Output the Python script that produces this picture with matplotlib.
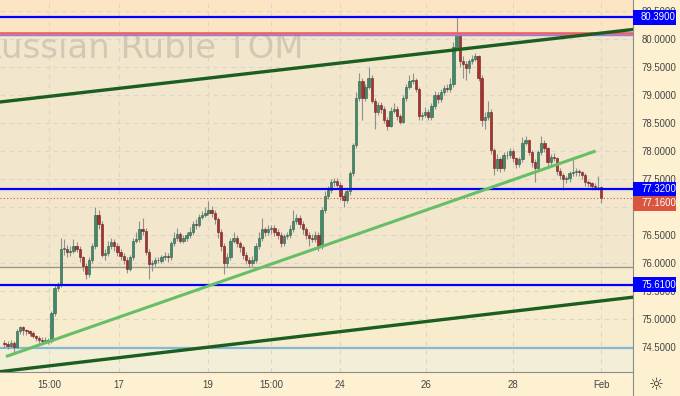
import numpy as np
import matplotlib
matplotlib.use("Agg")
import matplotlib.pyplot as plt
from matplotlib.lines import Line2D
from matplotlib.patches import Rectangle
from matplotlib.transforms import blended_transform_factory

# hourly candles, USD/RUB TOM, 13 Jan - 1 Feb
first_open = 74.58
closes = [
    74.55, 74.52, 74.58, 74.50, 74.78, 74.85, 74.80, 74.78, 74.75, 74.70,
    74.66, 74.62, 74.60, 74.62, 74.60, 75.10, 75.55, 75.60, 76.25, 76.25,
    76.20, 76.22, 76.30, 76.25, 76.10, 75.95, 75.80, 76.05, 76.30, 76.85,
    76.70, 76.15, 76.18, 76.30, 76.38, 76.30, 76.20, 76.12, 76.05, 75.90,
    76.10, 76.40, 76.42, 76.60, 76.58, 76.20, 75.98, 76.00, 76.05, 76.04,
    76.10, 76.12, 76.10, 76.35, 76.45, 76.52, 76.40, 76.45, 76.50, 76.55,
    76.70, 76.68, 76.83, 76.86, 76.90, 76.95, 76.90, 76.78, 76.55, 76.30,
    76.00, 76.10, 76.40, 76.45, 76.35, 76.28, 76.15, 76.05, 76.00, 76.05,
    76.30, 76.45, 76.60, 76.55, 76.60, 76.62, 76.55, 76.50, 76.35, 76.48,
    76.50, 76.60, 76.75, 76.80, 76.70, 76.60, 76.50, 76.45, 76.43, 76.50,
    76.30, 76.95, 77.20, 77.30, 77.45, 77.47, 77.40, 77.20, 77.12, 77.28,
    77.60, 78.10, 78.95, 79.25, 78.95, 79.15, 79.30, 78.90, 78.70, 78.82,
    78.75, 78.55, 78.45, 78.72, 78.75, 78.62, 78.52, 78.95, 79.15, 79.25,
    79.27, 79.10, 78.62, 78.64, 78.70, 78.60, 78.80, 79.00, 78.92, 79.05,
    79.12, 79.10, 79.20, 79.85, 80.07, 79.60, 79.55, 79.48, 79.60, 79.65,
    79.70, 79.30, 78.55, 78.60, 78.70, 78.02, 77.70, 77.85, 77.70, 77.92,
    77.93, 78.00, 77.87, 77.76, 77.85, 78.15, 78.20, 77.98, 77.80, 77.70,
    77.98, 78.15, 78.05, 77.80, 77.90, 77.88, 77.65, 77.57, 77.50, 77.52,
    77.60, 77.62, 77.64, 77.62, 77.58, 77.45, 77.42, 77.37, 77.35, 77.36,
    77.16,
]
highs = [
    74.62, 74.60, 74.63, 74.60, 74.82, 74.88, 74.87, 74.83, 74.80, 74.78,
    74.72, 74.70, 74.68, 74.68, 74.66, 75.15, 75.60, 75.66, 76.45, 76.42,
    76.32, 76.30, 76.42, 76.38, 76.30, 76.12, 76.00, 76.10, 76.35, 77.00,
    76.95, 76.75, 76.25, 76.40, 76.45, 76.42, 76.35, 76.25, 76.18, 76.10,
    76.15, 76.45, 76.55, 76.75, 76.80, 76.62, 76.25, 76.05, 76.10, 76.10,
    76.15, 76.20, 76.18, 76.40, 76.55, 76.62, 76.55, 76.50, 76.55, 76.65,
    76.75, 76.78, 76.88, 76.92, 77.00, 77.10, 77.02, 76.95, 76.82, 76.60,
    76.35, 76.18, 76.45, 76.55, 76.50, 76.40, 76.32, 76.20, 76.10, 76.12,
    76.35, 76.55, 76.80, 76.65, 76.68, 76.68, 76.68, 76.60, 76.55, 76.52,
    76.55, 76.68, 76.95, 76.88, 76.85, 76.75, 76.65, 76.55, 76.52, 76.58,
    76.55, 77.00, 77.28, 77.38, 77.50, 77.52, 77.52, 77.45, 77.25, 77.32,
    77.65, 78.15, 79.05, 79.40, 79.30, 79.20, 79.50, 79.35, 78.95, 78.88,
    78.88, 78.80, 78.60, 78.78, 78.85, 78.80, 78.66, 79.00, 79.20, 79.35,
    79.40, 79.30, 79.15, 78.70, 78.78, 78.75, 78.85, 79.08, 79.05, 79.10,
    79.18, 79.20, 79.30, 79.95, 80.39, 80.10, 79.70, 79.60, 79.65, 79.72,
    79.75, 79.72, 79.35, 78.70, 78.90, 78.75, 78.05, 77.95, 77.90, 77.98,
    78.00, 78.05, 78.03, 77.90, 77.90, 78.25, 78.27, 78.22, 78.02, 77.85,
    78.02, 78.27, 78.20, 78.08, 77.95, 77.96, 77.90, 77.70, 77.60, 77.55,
    77.65, 77.85, 77.70, 77.68, 77.65, 77.60, 77.48, 77.45, 77.42, 77.55,
    77.38,
]
lows = [
    74.48, 74.46, 74.50, 74.42, 74.48, 74.74, 74.72, 74.72, 74.70, 74.66,
    74.60, 74.58, 74.56, 74.57, 74.56, 74.58, 75.05, 75.50, 75.58, 76.15,
    76.10, 76.12, 76.18, 76.20, 76.02, 75.85, 75.72, 75.75, 76.00, 76.25,
    76.60, 76.10, 76.05, 76.12, 76.25, 76.22, 76.12, 76.05, 75.98, 75.82,
    75.85, 76.05, 76.35, 76.38, 76.50, 76.15, 75.72, 75.85, 75.95, 76.00,
    76.00, 76.05, 76.02, 76.05, 76.30, 76.40, 76.35, 76.35, 76.40, 76.45,
    76.50, 76.60, 76.65, 76.78, 76.82, 76.85, 76.82, 76.70, 76.45, 76.22,
    75.80, 75.92, 76.05, 76.35, 76.28, 76.20, 76.08, 75.98, 75.92, 75.95,
    76.00, 76.25, 76.40, 76.48, 76.50, 76.52, 76.48, 76.42, 76.28, 76.30,
    76.42, 76.45, 76.55, 76.70, 76.62, 76.52, 76.42, 76.30, 76.38, 76.38,
    76.22, 76.25, 76.90, 77.15, 77.25, 77.38, 77.35, 77.12, 77.00, 77.08,
    77.22, 77.55, 78.05, 78.90, 78.55, 78.90, 79.10, 78.85, 78.40, 78.65,
    78.68, 78.50, 78.38, 78.42, 78.68, 78.55, 78.48, 78.50, 78.90, 79.10,
    79.20, 79.05, 78.55, 78.55, 78.60, 78.55, 78.55, 78.75, 78.85, 78.88,
    79.00, 79.05, 79.05, 79.15, 79.80, 79.50, 79.30, 79.27, 79.40, 79.55,
    79.60, 79.25, 78.45, 78.40, 78.55, 77.95, 77.57, 77.65, 77.62, 77.65,
    77.85, 77.88, 77.80, 77.70, 77.72, 77.80, 78.10, 77.92, 77.72, 77.45,
    77.65, 77.92, 77.98, 77.72, 77.75, 77.82, 77.58, 77.50, 77.30, 77.42,
    77.45, 77.55, 77.55, 77.55, 77.50, 77.38, 77.35, 77.30, 77.30, 77.30,
    77.07,
]

# x-axis labels (candle index where they sit)
tick_pos = [14.2, 36.5, 64.8, 84.9, 106.9, 134.3, 162.0, 190.0]
tick_labels = ["15:00", "17", "19", "15:00", "24", "26", "28", "Feb"]

# horizontal levels drawn on the chart
blue_levels = [80.39, 77.32, 75.61]
red_level = 80.10
gray_level = 75.93
lightblue_level = 74.49
last_price = 77.16

# trend lines: two points each (candle index, price)
upper_channel = [(-1.4, 78.875), (200.2, 80.17)]
lower_channel = [(-1.4, 74.06), (200.2, 75.39)]
support_line = [(0.5, 74.33), (188.3, 78.00)]

ylim = (74.054, 80.696)
xlim = (-1.4, 200.2)

AXFONT = "Liberation Sans"

opens = [first_open] + closes[:-1]
x = np.arange(len(closes))
o = np.array(opens)
c = np.array(closes)

fig = plt.figure(figsize=(6.8, 3.96), dpi=100, facecolor="#fdf1d2")
ax = fig.add_axes([0, 24 / 396, 633 / 680, 372 / 396])
ax.set_facecolor("#f2e6cd")
ax.set_xlim(*xlim)
ax.set_ylim(*ylim)

# shaded zones
ax.axhspan(red_level, ylim[1], color="#fde5c4", zorder=0)
ax.axhspan(lightblue_level, gray_level, color="#f8ecce", zorder=0)
ax.axhspan(ylim[0], lightblue_level, color="#f3eed6", zorder=0)

ax.grid(True, ls=(0, (4, 4)), color="#ddd6c6", lw=0.8, zorder=0.5)
ax.set_axisbelow(True)

ax.text(304 / 633, 1 - 58 / 372, "U.S. Dollar / Russian Ruble TOM",
        transform=ax.transAxes, ha="right", va="baseline", fontsize=24.5,
        family="DejaVu Sans", color="#d3c8b5", zorder=0.8)

# candles
up = c >= o
body_h = np.where(np.abs(c - o) < 0.012, 0.012, c - o)
ax.vlines(x, lows, highs, color="#8f8f8f", lw=0.8, zorder=2)
ax.bar(x[up], body_h[up], bottom=o[up], width=0.74, color="#3f8a6b",
       edgecolor="#2b5f49", lw=0.4, zorder=3)
ax.bar(x[~up], body_h[~up], bottom=o[~up], width=0.74, color="#a8312f",
       edgecolor="#6e1f1f", lw=0.4, zorder=3)

# levels
ax.axhline(gray_level, color="#9c9789", lw=1.0, zorder=1.5)
ax.axhline(lightblue_level, color="#86b8d6", lw=1.6, zorder=1.5)
ax.axhline(red_level - 0.03, color="#7b86f0", lw=1.0, zorder=4)
ax.axhline(red_level, color="#f25c66", lw=1.9, zorder=4)
for lvl in blue_levels:
    ax.axhline(lvl, color="#0000ff", lw=1.6, zorder=4)
ax.axhline(last_price, color="#d9553f", lw=0.8, ls=(0, (1, 2)), zorder=4)

# trend lines
ax.axline(upper_channel[0], upper_channel[1], color="#1b5e20", lw=2.4, zorder=5)
ax.axline(lower_channel[0], lower_channel[1], color="#1b5e20", lw=2.4, zorder=5)
ax.plot([p[0] for p in support_line], [p[1] for p in support_line],
        color="#66bf66", lw=2.2, zorder=5, solid_capstyle="butt")

# axes cosmetics
for s in ["top", "left"]:
    ax.spines[s].set_visible(False)
ax.spines["right"].set_color("#8c8c8c")
ax.spines["bottom"].set_color("#8c8c8c")
ax.yaxis.tick_right()
yt = np.arange(74.5, 80.51, 0.5)
ax.set_yticks(yt)
ax.set_yticklabels([f"{v:.4f}" for v in yt], family=AXFONT)
ax.tick_params(axis="y", length=0, pad=6.3, labelsize=6.9, labelcolor="#444444")
ax.set_xticks(tick_pos)
ax.set_xticklabels(tick_labels, family=AXFONT)
ax.tick_params(axis="x", length=0, pad=6, labelsize=6.9, labelcolor="#444444")

# price tags on the right scale
tr = blended_transform_factory(ax.transAxes, ax.transData)
tag_w = 43 / 633
tag_h = 15 / 56
tags = [(lvl, lvl, "#0000ff") for lvl in blue_levels]
tags.append((last_price, last_price - 0.09, "#d9553f"))
for val, ypos, col in tags:
    ax.add_patch(Rectangle((1.0, ypos - tag_h / 2), tag_w, tag_h, transform=tr,
                           fc=col, ec="none", clip_on=False, zorder=9))
    ax.text(1 + 8 / 633, ypos, f"{val:.4f}", transform=tr, ha="left", va="center",
            fontsize=6.9, family=AXFONT, color="white", clip_on=False, zorder=10)

# bottom-right corner separator and settings icon
fig.add_artist(Line2D([633 / 680, 633 / 680], [0, 24 / 396], color="#8c8c8c", lw=0.8))
fig.text(656 / 680, 11 / 396, "\u263c", ha="center", va="center", fontsize=12,
         color="#333333")

fig.savefig("out.png", dpi=100, facecolor=fig.get_facecolor())
